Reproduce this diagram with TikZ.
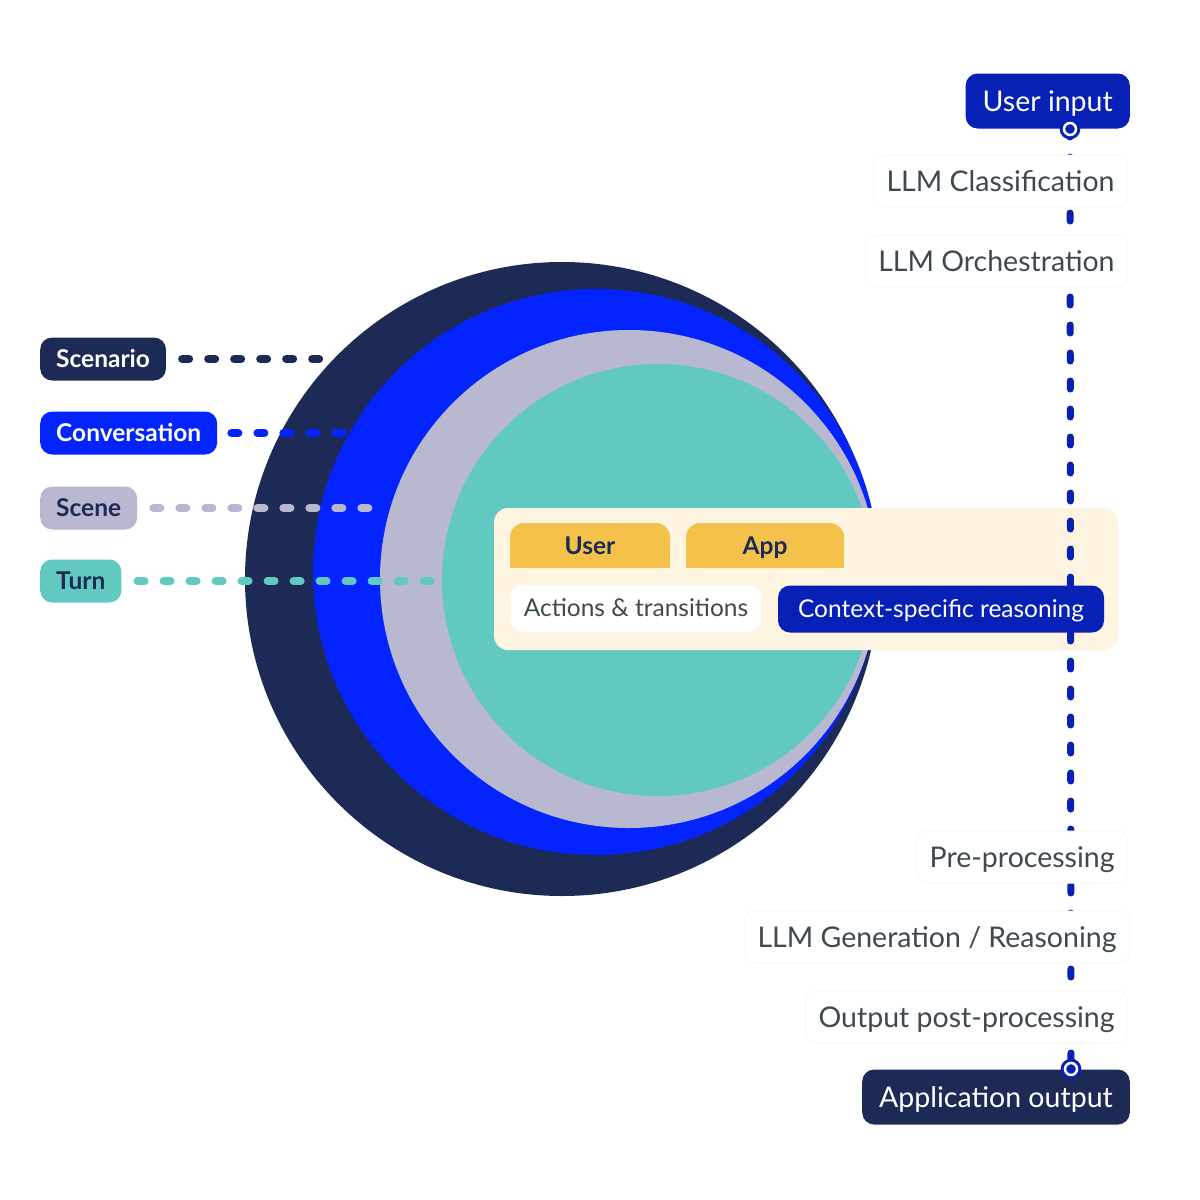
\documentclass[tikz,border=0pt]{standalone}
\usepackage{fontspec}
\setmainfont{Lato}
\usepackage{tikz}
\usetikzlibrary{positioning}
\definecolor{navy}{HTML}{1C2A55}
\definecolor{brightblue}{HTML}{0424FF}
\definecolor{lavender}{HTML}{B8B8D1}
\definecolor{teal-green}{HTML}{62C9C1}
\definecolor{deepblue}{HTML}{0720B6}
\definecolor{cream}{HTML}{FDF5E2}
\definecolor{tabgold}{HTML}{F4C24B}
\definecolor{slate}{HTML}{3E4A50}
\newcommand{\bigfont}{\fontsize{28.5}{32}\selectfont}
\newcommand{\smallfont}{\fontsize{24.5}{28}\selectfont}

\begin{document}
\begin{tikzpicture}[x=1pt, y=-1pt,
	tag/.style={rectangle, rounded corners=12pt, minimum height=43pt, inner xsep=16pt, inner ysep=0pt,
		text height=17.5pt, text depth=0pt, anchor=west, font=\smallfont\bfseries},
	leader/.style={line width=8pt, line cap=round, dash pattern=on 7pt off 19pt},
	stagebox/.style={rectangle, rounded corners=10pt, fill=white, draw=slate!4, line width=1pt,
		minimum height=52pt, inner xsep=13pt, inner ysep=0pt, text height=20pt, text depth=0pt,
		anchor=east, font=\bigfont, text=slate},
	endbox/.style={rectangle, rounded corners=12pt, minimum height=55pt, inner xsep=17pt, inner ysep=0pt,
		text height=20pt, text depth=0pt, anchor=east, font=\bigfont, text=white},
	chip/.style={rectangle, rounded corners=12pt, minimum height=47pt, inner ysep=0pt,
		text height=17.5pt, text depth=0pt, font=\smallfont},
	tabtext/.style={text height=17.5pt, text depth=0pt, inner sep=0pt, font=\smallfont\bfseries, text=navy},
	flow/.style={deepblue, line width=7pt, line cap=round, dash pattern=on 8pt off 20pt},
	marker/.style={circle, draw=deepblue, double=white, double distance=2.5pt, line width=3pt,
		fill=deepblue, minimum size=12pt, inner sep=0pt}
	]
	\useasboundingbox (0,0) rectangle (1200,1200);
	\fill[white] (0,0) rectangle (1200,1200);

	% Nested scopes as circles
	\fill[navy] (562,579) circle[radius=317];
	\fill[brightblue] (596,572) circle[radius=283];
	\fill[lavender] (629,579) circle[radius=249];
	\fill[teal-green] (658,580) circle[radius=216];

	% Legend on the left
	\node[tag, fill=navy, text=white] (scenario) at (40,359) {Scenario};
	\node[tag, fill=brightblue, text=white] (conversation) at (40,433) {Conversation};
	\node[tag, fill=lavender, text=navy] (scene) at (40,508) {Scene};
	\node[tag, fill=teal-green, text=navy] (turn) at (40,581) {Turn};

	\coordinate (scenarioEnd) at (330,359);
	\coordinate (conversationEnd) at (348,433);
	\coordinate (sceneEnd) at (384,508);
	\coordinate (turnEnd) at (440,581);

	\draw[leader, navy] ([xshift=16pt]scenario.east) -- (scenarioEnd);
	\draw[leader, brightblue] ([xshift=14pt]conversation.east) -- (conversationEnd);
	\draw[leader, lavender] ([xshift=16pt]scene.east) -- (sceneEnd);
	\draw[leader, teal-green] ([xshift=16pt]turn.east) -- (turnEnd);

	% Turn panel
	\node[rectangle, rounded corners=14pt, fill=cream, minimum width=624pt, minimum height=142pt] (panel) at (806,579) {};
	\fill[tabgold, rounded corners=14pt] (510,523) rectangle (670,568);
	\fill[tabgold] (510,545) rectangle (670,568);
	\fill[tabgold, rounded corners=14pt] (686,523) rectangle (844,568);
	\fill[tabgold] (686,545) rectangle (844,568);
	\node[tabtext] (user) at (590,546) {User};
	\node[tabtext] (app) at (765,546) {App};

	% Pipeline on the right
	\coordinate (flowTop) at (1070,129);
	\coordinate (flowBot) at (1071,1069);
	\draw[flow] (flowTop) -- (flowBot);

	\node[chip, fill=white, text=slate, minimum width=250pt] (actions) at (636,608) {Actions \& transitions};
	\node[chip, fill=deepblue, text=white, minimum width=326pt] (reasoning) at (941,609) {Context-specific reasoning};

	\node[endbox, fill=deepblue] (userinput) at (1130,101) {User input};
	\node[stagebox] (classify) at (1128,181) {LLM Classification};
	\node[stagebox] (orchestrate) at (1128,261) {LLM Orchestration};
	\node[stagebox] (preproc) at (1128,857) {Pre-processing};
	\node[stagebox] (generate) at (1130,937) {LLM Generation / Reasoning};
	\node[stagebox] (postproc) at (1128,1017) {Output post-processing};
	\node[endbox, fill=navy] (appoutput) at (1130,1097) {Application output};

	\node[marker] at (flowTop) {};
	\node[marker] at (flowBot) {};
\end{tikzpicture}
\end{document}
